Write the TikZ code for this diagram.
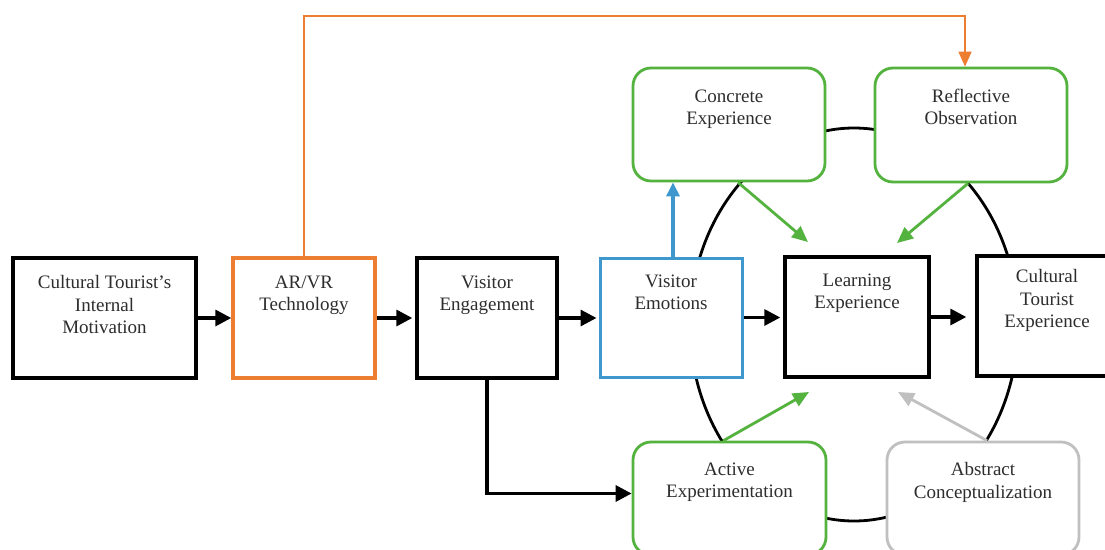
\documentclass[tikz,border=0pt]{standalone}
\usepackage{fontspec}
\setmainfont{Liberation Serif}
\usetikzlibrary{arrows.meta,positioning}

\definecolor{avorange}{RGB}{237,125,49}
\definecolor{emoblue}{RGB}{62,152,205}
\definecolor{kolbgreen}{RGB}{84,178,62}
\definecolor{kolbgray}{RGB}{192,192,192}
\definecolor{textgray}{RGB}{45,45,45}

\tikzset{
  box/.style={rectangle, inner sep=0pt, fill=white, line width=3.4pt},
  blackbox/.style={box, draw=black},
  orangebox/.style={box, draw=avorange, line width=3.4pt},
  bluebox/.style={box, draw=emoblue, line width=3pt},
  greenbox/.style={box, draw=kolbgreen, line width=2.8pt, rounded corners=18pt},
  graybox/.style={box, draw=kolbgray, line width=2.8pt, rounded corners=18pt},
  wide/.style={minimum width=#1pt},
  tall/.style={minimum height=#1pt},
  txt/.style={align=center, inner sep=0pt, text=textgray,
    font=\fontsize{19}{22.5}\selectfont},
  blackarrow/.style={line width=3.3pt, -{Triangle[length=16pt,width=16pt]}},
  greenarrow/.style={draw=kolbgreen, line width=2.8pt,
    -{Triangle[length=16pt,width=14pt]}},
  grayarrow/.style={draw=kolbgray, line width=2.8pt,
    -{Triangle[length=16pt,width=14pt]}},
  bluearrow/.style={draw=emoblue, line width=3.2pt,
    -{Triangle[length=14pt,width=13pt]}},
  orangeline/.style={draw=avorange, line width=1.6pt,
    -{Triangle[length=15pt,width=13pt]}},
  cycleline/.style={draw=black, line width=2.8pt},
}

\begin{document}
\begin{tikzpicture}[x=1pt, y=-1pt]
\useasboundingbox (0,0) rectangle (1105,549);
\clip (0,0) rectangle (1105,549);
\fill[white] (0,0) rectangle (1105,549);

% Kolb learning cycle behind the boxes
\draw[cycleline] (854,324.5) ellipse [x radius=164pt, y radius=196.5pt];

% main chain of boxes
\node[blackbox, wide=183, tall=120] (mot) at (104.5,318) {};
\node[orangebox, wide=142, tall=120] (arvr) at (304,318) {};
\node[blackbox, wide=140, tall=120] (eng) at (487,318) {};
\node[bluebox, wide=142, tall=119] (emo) at (671,317.5) {};
\node[blackbox, wide=144, tall=120] (learn) at (857,317) {};
\node[blackbox, wide=140, tall=120] (cult) at (1047,316) {};

% the four stages of the cycle
\node[greenbox, wide=192, tall=113] (ce) at (729,124.5) {};
\node[greenbox, wide=192, tall=114] (ro) at (971,125) {};
\node[greenbox, wide=193, tall=113] (ae) at (729.5,498.5) {};
\node[graybox, wide=192, tall=113] (ac) at (983,498.5) {};

% box texts
\node[txt, below=19pt] (motT) at (mot.north) {Cultural Tourist's\\Internal\\Motivation};
\node[txt, below=19pt] (arvrT) at (arvr.north) {AR/VR\\Technology};
\node[txt, below=19pt] (engT) at (eng.north) {Visitor\\Engagement};
\node[txt, below=18pt] (emoT) at (emo.north) {Visitor\\Emotions};
\node[txt, below=18pt] (learnT) at (learn.north) {Learning\\Experience};
\node[txt, below=15pt] (cultT) at (cult.north) {Cultural\\Tourist\\Experience};
\node[txt, below=23pt] (ceT) at (ce.north) {Concrete\\Experience};
\node[txt, below=22pt] (roT) at (ro.north) {Reflective\\Observation};
\node[txt, below=22pt] (aeT) at (ae.north) {Active\\Experimentation};
\node[txt, below=22pt] (acT) at (ac.north) {Abstract\\Conceptualization};

% main flow
\draw[blackarrow] (mot.east) -- (mot.east -| arvr.west);
\draw[blackarrow, shorten >=3pt] (arvr.east) -- (arvr.east -| eng.west);
\draw[blackarrow, shorten >=2pt] (eng.east) -- (eng.east -| emo.west);
\draw[blackarrow, shorten >=3pt] (emo.east) -- (emo.east -| learn.west);
\draw[blackarrow, shorten >=9pt] (learn.east) -- (learn.east -| cult.west);
\draw[blackarrow] (eng.south) |- ([yshift=5pt]ae.west);

% technology feeds reflective observation
\coordinate (otop) at (965,16);
\coordinate (roin) at ([xshift=-6pt]ro.north);
\draw[orangeline] (arvr.north) |- (otop) -- (roin);

% emotions trigger concrete experience
\coordinate (emotop) at ([xshift=2pt]emo.north);
\draw[bluearrow] (emotop) -- (emotop |- ce.south);

% every stage feeds the learning experience
\coordinate (ceout) at ([xshift=9pt]ce.south);
\coordinate (roout) at ([xshift=-3pt]ro.south);
\coordinate (aeout) at ([xshift=-6pt]ae.north);
\coordinate (acout) at ([xshift=4pt]ac.north);
\coordinate (lnA) at (808,242);
\coordinate (lnB) at (897,243);
\coordinate (lnC) at (809,392);
\coordinate (lnD) at (898,392);
\draw[greenarrow] (ceout) -- (lnA);
\draw[greenarrow] (roout) -- (lnB);
\draw[greenarrow] (aeout) -- (lnC);
\draw[grayarrow] (acout) -- (lnD);
\end{tikzpicture}
\end{document}
